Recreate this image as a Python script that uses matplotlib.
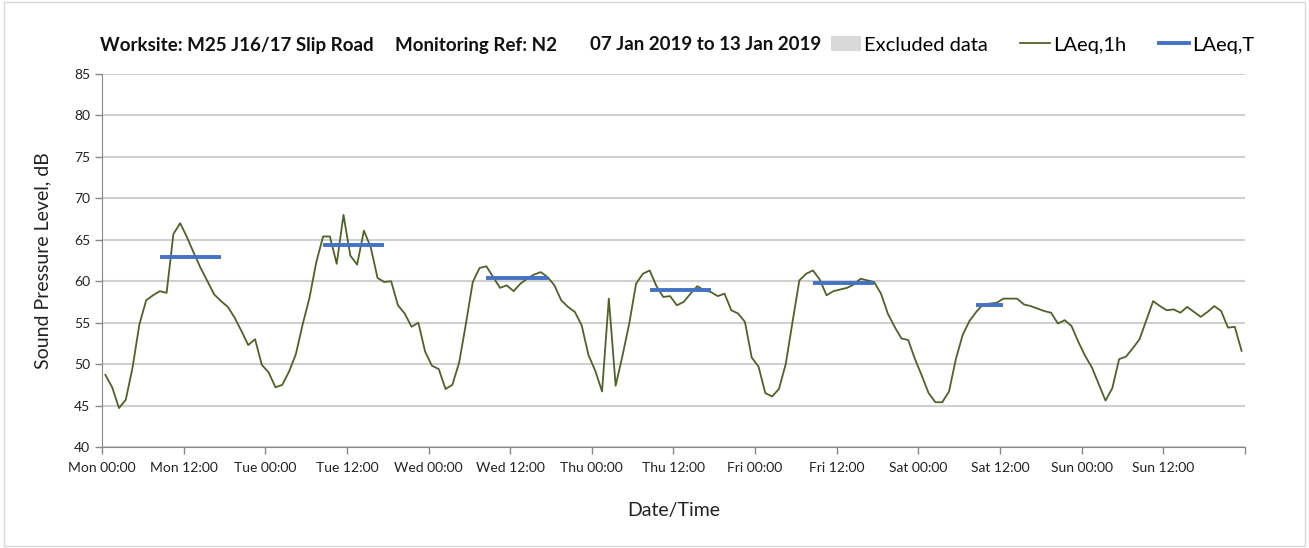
import numpy as np
import matplotlib
matplotlib.use("Agg")
from matplotlib import pyplot as plt
from matplotlib.patches import Patch, Rectangle
from matplotlib.lines import Line2D

plt.rcParams['font.family'] = ['Lato', 'DejaVu Sans']

# hourly LAeq,1h, Mon 00:00 .. Sun 23:00
laeq_1h = [
    48.7, 47.2, 44.7, 45.7, 49.6, 54.8, 57.7, 58.3, 58.8, 58.6, 65.7, 67.0,
    65.3, 63.4, 61.6, 60.0, 58.4, 57.6, 56.9, 55.6, 54.0, 52.3, 53.0, 49.9,
    49.0, 47.2, 47.5, 49.1, 51.2, 54.8, 58.0, 62.3, 65.4, 65.4, 62.1, 68.0,
    63.1, 62.0, 66.1, 64.1, 60.4, 59.9, 60.0, 57.1, 56.1, 54.5, 55.0, 51.5,
    49.8, 49.4, 47.0, 47.5, 50.2, 54.9, 59.9, 61.6, 61.8, 60.5, 59.2, 59.5,
    58.8, 59.7, 60.3, 60.8, 61.1, 60.5, 59.5, 57.7, 56.9, 56.3, 54.7, 51.1,
    49.2, 46.7, 57.9, 47.4, 51.0, 54.9, 59.7, 60.9, 61.3, 59.4, 58.1, 58.2,
    57.1, 57.5, 58.5, 59.4, 58.9, 58.7, 58.2, 58.5, 56.5, 56.1, 55.1, 50.8,
    49.7, 46.5, 46.1, 47.0, 50.0, 55.1, 60.1, 60.9, 61.3, 60.2, 58.3, 58.8,
    59.0, 59.2, 59.6, 60.3, 60.1, 59.9, 58.5, 56.1, 54.5, 53.1, 52.9, 50.6,
    48.6, 46.5, 45.4, 45.4, 46.7, 50.6, 53.5, 55.2, 56.3, 57.2, 57.3, 57.4,
    57.9, 57.9, 57.9, 57.2, 57.0, 56.7, 56.4, 56.2, 54.9, 55.3, 54.6, 52.7,
    51.0, 49.6, 47.6, 45.6, 47.1, 50.6, 50.9, 51.9, 53.0, 55.3, 57.6, 57.0,
    56.5, 56.6, 56.2, 56.9, 56.3, 55.7, 56.3, 57.0, 56.4, 54.4, 54.5, 51.6,
]

# LAeq,T over working periods: (start hour, end hour, level)
period_start = [8, 32, 56, 80, 104, 128]
period_end = [18, 42, 66, 90, 114, 133]
laeq_t = [62.9, 64.35, 60.36, 58.88, 59.76, 57.19]

days = ["Mon", "Tue", "Wed", "Thu", "Fri", "Sat", "Sun"]
tick_labels = [d + t for d in days for t in [" 00:00", " 12:00"]]

title_parts = ["Worksite: M25 J16/17 Slip Road", "Monitoring Ref: N2",
               "07 Jan 2019 to 13 Jan 2019"]


def main():
    fig = plt.figure(figsize=(13.09, 5.48), dpi=100)
    fig.patches.append(Rectangle((0.003, 0.003), 0.994, 0.994, transform=fig.transFigure,
                                 fill=False, edgecolor="#d9d9d9", linewidth=1))
    ax = fig.add_axes([0.0779, 0.1843, 0.8732, 0.6807])

    hours = np.arange(len(laeq_1h)) + 0.5
    ax.plot(hours, laeq_1h, color="#4f6228", linewidth=1.3, zorder=3)
    for s, e, v in zip(period_start, period_end, laeq_t):
        ax.plot([s + 0.5, e - 0.5], [v, v], color="#4472c4", linewidth=2.8,
                solid_capstyle="butt", zorder=4)

    ax.set_xlim(0, 168)
    ax.set_ylim(40, 85)
    ax.set_yticks(range(40, 86, 5))
    ax.set_xticks(range(0, 169, 12))
    ax.set_xticklabels(tick_labels + [""])
    ax.set_xticks(range(0, 169, 24), minor=True)
    ax.tick_params(axis="both", which="major", labelsize=10, color="#888888",
                   length=5, width=1, labelcolor="#222222")
    ax.tick_params(axis="x", which="minor", length=0)
    ax.tick_params(axis="x", pad=6)

    ax.grid(axis="y", which="major", color="#d0d0d0", linewidth=1.5)
    ax.grid(axis="x", which="minor", color="#d9d9d9", linewidth=1.5)
    ax.set_axisbelow(True)
    for side in ["top", "right"]:
        ax.spines[side].set_visible(False)
    for side in ["left", "bottom"]:
        ax.spines[side].set_color("#888888")

    ax.set_ylabel("Sound Pressure Level, dB", fontsize=14, labelpad=16, color="#222222")
    ax.set_xlabel("Date/Time", fontsize=14, labelpad=20, color="#222222")

    xs = [100, 395, 590]
    for x, t in zip(xs, title_parts):
        fig.text(x / 1309, 1 - 45 / 548, t, fontsize=13.5, fontweight="bold",
                 va="center", ha="left", color="#111111")

    handles = [Patch(facecolor="#d9d9d9", edgecolor="none"),
               Line2D([], [], color="#4f6228", linewidth=1.3),
               Line2D([], [], color="#4472c4", linewidth=2.8)]
    fig.legend(handles, ["Excluded data", "LAeq,1h", "LAeq,T"], ncol=3,
               loc="center left", bbox_to_anchor=(831 / 1309, 1 - 45 / 548),
               frameon=False, fontsize=14.5, handlelength=1.5, handletextpad=0.15,
               columnspacing=1.6, borderpad=0, borderaxespad=0)

    plt.savefig("out.png", dpi=100)


if __name__ == '__main__':
    main()
